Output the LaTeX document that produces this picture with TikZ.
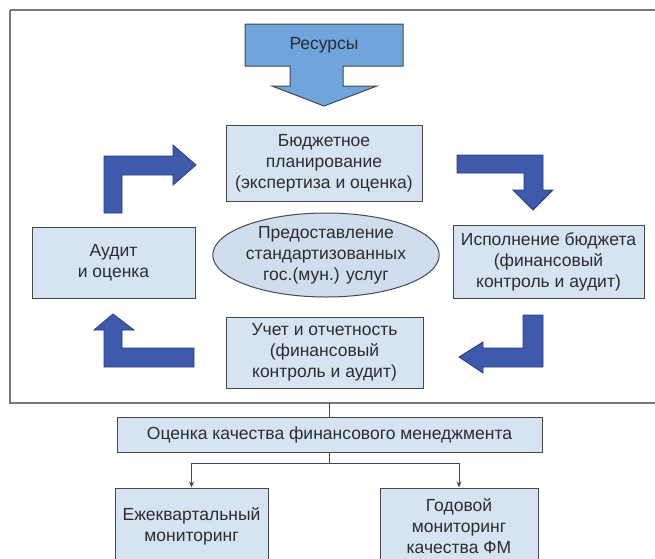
\documentclass[tikz,border=0pt]{standalone}
\usepackage{fontspec}
\setmainfont{Liberation Sans}
\usetikzlibrary{arrows.meta,shapes.geometric}
\definecolor{boxfill}{RGB}{214,227,242}
\definecolor{ellfill}{RGB}{208,221,238}
\definecolor{boxline}{RGB}{72,72,72}
\definecolor{txt}{RGB}{45,45,45}
\definecolor{resfill}{RGB}{111,164,220}
\definecolor{bentfill}{RGB}{62,90,172}
\definecolor{bentline}{RGB}{40,58,125}
\definecolor{framecol}{RGB}{120,120,120}
\begin{document}
\begin{tikzpicture}[x=1pt,y=-1pt,
  box/.style={draw=boxline, line width=1pt, fill=boxfill, align=center, inner sep=0pt,
    font=\fontsize{17.5}{21}\selectfont, text=txt},
  ell/.style={ellipse, draw=boxline, line width=1pt, fill=ellfill, align=center, inner sep=0pt,
    font=\fontsize{17.5}{21}\selectfont, text=txt},
  bent/.style={fill=bentfill, draw=bentline, line width=0.8pt, line join=miter},
  resarrow/.style={fill=resfill, draw=boxline, line width=1pt, line join=miter},
  conn/.style={draw=boxline, line width=0.9pt},
  tip/.style={-{Stealth[length=6pt,width=5pt]}}
]
\useasboundingbox (0,0) rectangle (655,558);
\fill[white] (0,0) rectangle (655,558);
% outer frame
\draw[framecol, line width=1.4pt] (10,10) -- (662,10) (10,10) -- (10,403) -- (662,403);
% resources arrow
\path[resarrow] (245,24) -- (403,24) -- (403,66) -- (343,66) -- (343,86) -- (377,86)
  -- (324,106) -- (272,86) -- (290,86) -- (290,66) -- (245,66) -- cycle;
\node[font=\fontsize{17.5}{21}\selectfont, text=txt] (res) at (324,45) {Ресурсы};
% boxes
\node[box, minimum width=196pt, minimum height=76pt] (plan) at (324,163)
  {Бюджетное\\планирование\\(экспертиза и оценка)};
\node[box, minimum width=163pt, minimum height=71pt] (audit) at (113.5,262.5)
  {Аудит\\и оценка};
\node[box, minimum width=191pt, minimum height=73pt] (exec) at (548.5,261.5)
  {Исполнение бюджета\\(финансовый\\контроль и аудит)};
\node[box, minimum width=197pt, minimum height=71pt] (uchet) at (324.5,352.5)
  {Учет и отчетность\\(финансовый\\контроль и аудит)};
\node[ell, minimum width=225pt, minimum height=84pt] (ell) at (326,255)
  {Предоставление\\стандартизованных\\гос.(мун.) услуг};
% bent arrows
\path[bent] (104,213) -- (104,156) -- (173,156) -- (173,145) -- (196,165) -- (173,185)
  -- (173,175) -- (122,175) -- (122,213) -- cycle;
\path[bent] (457,155) -- (543,155) -- (543,190) -- (553,190) -- (533,210) -- (513,190)
  -- (524,190) -- (524,173) -- (457,173) -- cycle;
\path[bent] (543,315) -- (543,367) -- (483,367) -- (483,373) -- (459,357) -- (483,342)
  -- (483,348) -- (523,348) -- (523,315) -- cycle;
\path[bent] (194,348) -- (194,367) -- (104,367) -- (104,330) -- (94,330) -- (113,314)
  -- (134,330) -- (122,330) -- (122,348) -- cycle;
% lower part
\node[box, minimum width=425pt, minimum height=35pt] (ocenka) at (329.5,434.5)
  {Оценка качества финансового менеджмента};
\node[box, minimum width=153pt, minimum height=76pt] (qmon) at (191.5,526)
  {Ежеквартальный\\мониторинг};
\node[box, minimum width=158pt, minimum height=76pt] (ymon) at (459,526)
  {Годовой\\мониторинг\\качества ФМ};
\coordinate (frameb) at (329.5,403);
\coordinate (split) at (329.5,463);
\draw[conn] (frameb) -- (ocenka.north);
\draw[conn] (ocenka.south) -- (split);
\draw[conn, tip] (split) -| (qmon.north);
\draw[conn, tip] (split) -| (ymon.north);
\end{tikzpicture}
\end{document}
